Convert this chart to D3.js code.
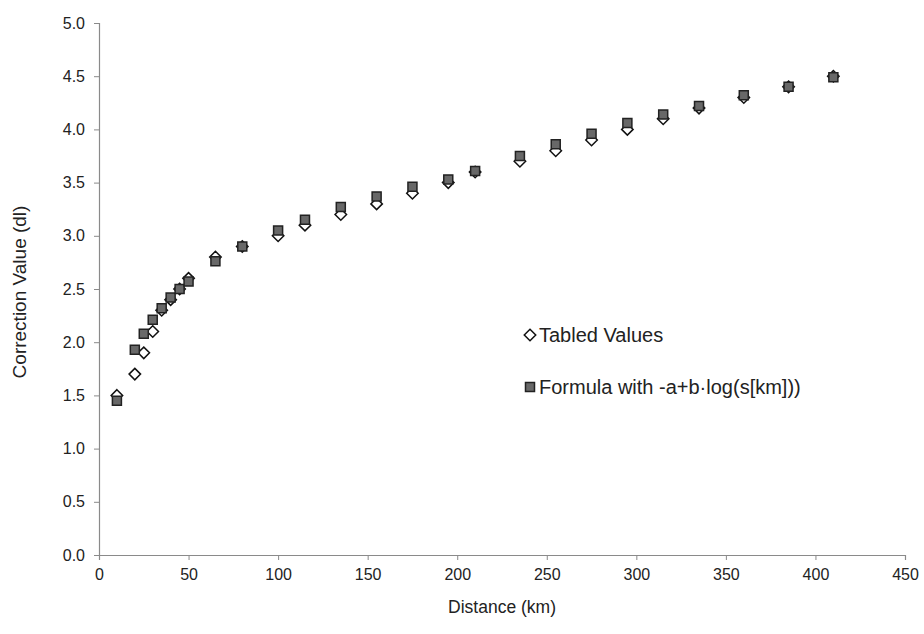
<!DOCTYPE html>
<html>
<head>
<meta charset="utf-8">
<script src="https://cdn.jsdelivr.net/npm/d3@7"></script>
<style>
    body { margin: 0; background: #fff; }
    text { font-family: "Liberation Sans", Arial, sans-serif; fill: #222; }
</style>
</head>
<body>
<div id="chart"></div>
<script>
const distances = [10, 20, 25, 30, 35, 40, 45, 50, 65, 80, 100, 115, 135, 155, 175, 195, 210, 235, 255, 275, 295, 315, 335, 360, 385, 410];
const tabledValues = [1.5, 1.7, 1.9, 2.1, 2.3, 2.4, 2.5, 2.6, 2.8, 2.9, 3.0, 3.1, 3.2, 3.3, 3.4, 3.5, 3.6, 3.7, 3.8, 3.9, 4.0, 4.1, 4.2, 4.3, 4.4, 4.5];
const formulaValues = [1.45, 1.93, 2.08, 2.21, 2.32, 2.42, 2.50, 2.57, 2.76, 2.90, 3.05, 3.15, 3.27, 3.37, 3.46, 3.53, 3.61, 3.75, 3.86, 3.96, 4.06, 4.14, 4.22, 4.32, 4.40, 4.49];
const xTicks = [0, 50, 100, 150, 200, 250, 300, 350, 400, 450];
const yTicks = [0, 0.5, 1.0, 1.5, 2.0, 2.5, 3.0, 3.5, 4.0, 4.5, 5.0];
const seriesNames = ["Tabled Values", "Formula with -a+b\u00b7log(s[km]))"];

const width = 924;
const height = 634;
const fontSize = 16;

const svg = d3.select("#chart")
    .append("svg")
    .attr("width", width)
    .attr("height", height);

const x = d3.scaleLinear().domain([0, 450]).range([99, 905]);
const y = d3.scaleLinear().domain([0, 5]).range([555, 23]);

const xAxis = svg.append("g")
    .attr("transform", "translate(0," + y(0) + ")")
    .call(d3.axisBottom(x).tickValues(xTicks).tickSize(5).tickPadding(9).tickFormat(d3.format("d")));

const yAxis = svg.append("g")
    .attr("transform", "translate(" + x(0) + ",0)")
    .call(d3.axisLeft(y).tickValues(yTicks).tickSize(5).tickPadding(9).tickFormat(d3.format(".1f")));

[xAxis, yAxis].forEach(axis => {
    axis.select(".domain").attr("stroke", "#8a8a8a").attr("stroke-width", 1.2);
    axis.selectAll(".tick line").attr("stroke", "#8a8a8a");
    axis.selectAll(".tick text")
        .style("font-size", fontSize)
        .style("font-family", "'Liberation Sans', Arial, sans-serif")
        .attr("fill", "#222");
});

// axis titles
svg.append("text")
    .attr("x", (x(0) + x(450)) / 2)
    .attr("y", 613)
    .attr("text-anchor", "middle")
    .style("font-size", 17.5)
    .text("Distance (km)");

svg.append("text")
    .attr("transform", "translate(26," + (y(2.5) + 3) + ") rotate(-90)")
    .attr("text-anchor", "middle")
    .style("font-size", 19)
    .text("Correction Value (dl)");

const diamond = d3.symbol().type(d3.symbolDiamond2).size(84);
const square = d3.symbol().type(d3.symbolSquare).size(81);

// tabled values (open diamonds) go underneath
svg.append("g")
    .selectAll("path")
    .data(distances.map((d, i) => [d, tabledValues[i]]))
    .enter()
    .append("path")
    .attr("d", diamond)
    .attr("transform", d => "translate(" + x(d[0]) + "," + y(d[1]) + ")")
    .attr("fill", "#fff")
    .attr("stroke", "#111")
    .attr("stroke-width", 1.5);

svg.append("g")
    .selectAll("path")
    .data(distances.map((d, i) => [d, formulaValues[i]]))
    .enter()
    .append("path")
    .attr("d", square)
    .attr("transform", d => "translate(" + x(d[0]) + "," + y(d[1]) + ")")
    .attr("fill", "#686868")
    .attr("stroke", "#222")
    .attr("stroke-width", 1.5);

// legend
const legend = svg.append("g");
const legendX = 530;
const legendY = [335, 387];

legend.append("path")
    .attr("d", diamond)
    .attr("transform", "translate(" + legendX + "," + legendY[0] + ")")
    .attr("fill", "#fff")
    .attr("stroke", "#111")
    .attr("stroke-width", 1.5);

legend.append("path")
    .attr("d", square)
    .attr("transform", "translate(" + legendX + "," + legendY[1] + ")")
    .attr("fill", "#686868")
    .attr("stroke", "#222")
    .attr("stroke-width", 1.5);

legend.selectAll("text")
    .data(seriesNames)
    .enter()
    .append("text")
    .attr("x", legendX + 9)
    .attr("y", (d, i) => legendY[i])
    .attr("dy", "0.35em")
    .style("font-size", 20)
    .text(d => d);
</script>
</body>
</html>
